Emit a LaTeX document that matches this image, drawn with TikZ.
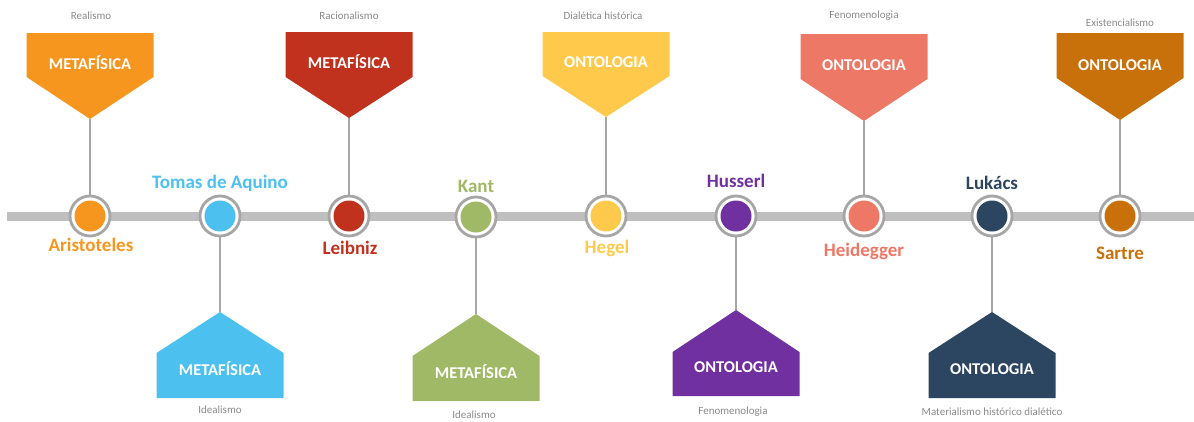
\documentclass[tikz,border=0pt]{standalone}
\usepackage{fontspec}
\setmainfont{Carlito}
\definecolor{cAri}{HTML}{F7961F}
\definecolor{cTom}{HTML}{4CC1EF}
\definecolor{cLei}{HTML}{C0311E}
\definecolor{cKan}{HTML}{A0B966}
\definecolor{cHeg}{HTML}{FFCA4C}
\definecolor{cHus}{HTML}{7030A0}
\definecolor{cHei}{HTML}{EE7866}
\definecolor{cLuk}{HTML}{2C4561}
\definecolor{cSar}{HTML}{C8700A}
\definecolor{barg}{HTML}{BFBFBF}
\definecolor{ringg}{HTML}{A6A6A6}
\definecolor{smallg}{HTML}{8A8A8A}
\tikzset{
  boxtext/.style={text=white,font=\fontsize{16.5}{18}\selectfont\bfseries,inner sep=0pt},
  nametext/.style={font=\fontsize{19}{21}\selectfont\bfseries,inner sep=0pt},
  smalltext/.style={text=smallg,font=\fontsize{11}{12}\selectfont,inner sep=0pt},
  ring/.style={circle,draw=ringg,line width=2.8pt,fill=white,minimum size=40pt,inner sep=0pt},
  dot/.style={circle,minimum size=31pt,inner sep=0pt},
  stem/.style={draw=ringg,line width=2.6pt},
}
% upper pentagon: name, cx, top, shoulder, tip, colour, text, text y
\newcommand{\upbox}[8]{%
  \fill[#6] (#2-63.5,#3) -- (#2+63.5,#3) -- (#2+63.5,#4) -- (#2,#5) -- (#2-63.5,#4) -- cycle;
  \coordinate (#1tip) at (#2,#5);
  \node[boxtext] (#1box) at (#2,#8) {#7};
}
% lower pentagon: name, cx, tip, shoulder, bottom, colour, text, text y
\newcommand{\downbox}[8]{%
  \fill[#6] (#2,#3) -- (#2+63.5,#4) -- (#2+63.5,#5) -- (#2-63.5,#5) -- (#2-63.5,#4) -- cycle;
  \coordinate (#1tip) at (#2,#3);
  \node[boxtext] (#1box) at (#2,#8) {#7};
}
\begin{document}
\begin{tikzpicture}[x=1pt,y=-1pt]
\useasboundingbox (0,0) rectangle (1194,421);
% timeline bar
\coordinate (barL) at (7,216);
\coordinate (barR) at (1194,216);
\draw[barg,line width=9pt] (barL) -- (barR);

% pentagons
\upbox{ari}{90}{33}{77}{119}{cAri}{METAFÍSICA}{63}
\upbox{lei}{349}{32}{77}{118}{cLei}{METAFÍSICA}{62}
\upbox{heg}{606}{32}{76}{117}{cHeg}{ONTOLOGIA}{62}
\upbox{hei}{864}{34}{79}{121}{cHei}{ONTOLOGIA}{65}
\upbox{sar}{1120}{33}{78}{120}{cSar}{ONTOLOGIA}{65}
\downbox{tom}{220}{312}{353}{398}{cTom}{METAFÍSICA}{369}
\downbox{kan}{476}{314}{356}{401}{cKan}{METAFÍSICA}{372}
\downbox{hus}{736}{310}{352}{396}{cHus}{ONTOLOGIA}{367}
\downbox{luk}{992}{312}{353}{398}{cLuk}{ONTOLOGIA}{369}

% circle positions
\coordinate (ariC) at (90,216);
\coordinate (tomC) at (220,216);
\coordinate (leiC) at (349,216);
\coordinate (kanC) at (476,217);
\coordinate (hegC) at (606,216);
\coordinate (husC) at (736,216);
\coordinate (heiC) at (864,216);
\coordinate (lukC) at (992,216);
\coordinate (sarC) at (1120,216);

% stems
\foreach \n in {ari,tom,lei,kan,heg,hus,hei,luk,sar}{
  \draw[stem] (\n tip) -- (\n C);
}

% rings and dots
\foreach \n/\c in {ari/cAri,tom/cTom,lei/cLei,kan/cKan,heg/cHeg,hus/cHus,hei/cHei,luk/cLuk,sar/cSar}{
  \node[ring] (\n ring) at (\n C) {};
  \node[dot,fill=\c] (\n dot) at (\n C) {};
}

% names
\node[nametext,text=cAri] (ariname) at (91,245) {Aristoteles};
\node[nametext,text=cTom] (tomname) at (220,183) {Tomas de Aquino};
\node[nametext,text=cLei] (leiname) at (350,248) {Leibniz};
\node[nametext,text=cKan] (kanname) at (476,186) {Kant};
\node[nametext,text=cHeg] (hegname) at (607,248) {Hegel};
\node[nametext,text=cHus] (husname) at (736,181) {Husserl};
\node[nametext,text=cHei] (heiname) at (864,251) {Heidegger};
\node[nametext,text=cLuk] (lukname) at (992,183) {Lukács};
\node[nametext,text=cSar] (sarname) at (1120,253) {Sartre};

% small labels
\node[smalltext] (arisub) at (91,16) {Realismo};
\node[smalltext] (leisub) at (349,16) {Racionalismo};
\node[smalltext] (hegsub) at (603,16) {Dialética histórica};
\node[smalltext] (heisub) at (864,16) {Fenomenologia};
\node[smalltext] (sarsub) at (1120,23) {Existencialismo};
\node[smalltext] (tomsub) at (220,410) {Idealismo};
\node[smalltext] (kansub) at (474,415) {Idealismo};
\node[smalltext] (hussub) at (733,412) {Fenomenologia};
\node[smalltext] (luksub) at (992,412) {Materialismo histórico dialético};
\end{tikzpicture}
\end{document}
